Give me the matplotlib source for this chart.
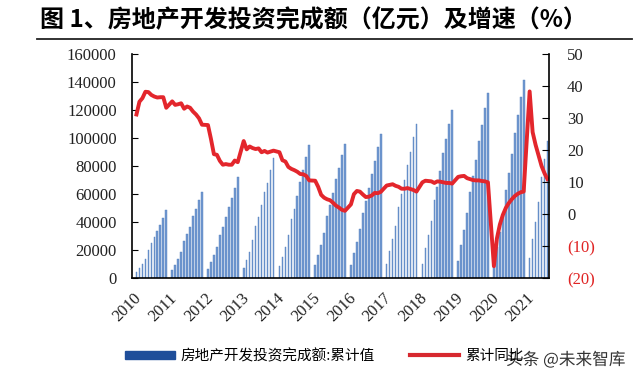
import numpy as np
import matplotlib.pyplot as plt
import matplotlib.patheffects as pe
from matplotlib.lines import Line2D
from matplotlib.patches import Patch

plt.rcParams['font.family'] = ['Noto Sans CJK SC', 'DejaVu Sans']

# cumulative investment (100m yuan), Feb..Dec of each year (Jan-Feb reported together)
inv_2010 = [4127, 7084, 10119, 13920, 19747, 24741, 28940, 33736, 37650, 43005, 48267]
inv_2011 = [5580, 9500, 13590, 18737, 26250, 31300, 36600, 44531, 49359, 55863, 61740]
inv_2012 = [6236, 11700, 16100, 22200, 30610, 36150, 43500, 51050, 56980, 64480, 71804]
inv_2013 = [7349, 13133, 18737, 26800, 36828, 43600, 51900, 61120, 68200, 76900, 86013]
inv_2014 = [8706, 15339, 21810, 30740, 42019, 49600, 58831, 68751, 76800, 86100, 95036]
inv_2015 = [9200, 16500, 23400, 32400, 43955, 51900, 60600, 70535, 78600, 87700, 95979]
inv_2016 = [9049, 17677, 25500, 34671, 46631, 55000, 64000, 74598, 83905, 93387, 102581]
inv_2017 = [9854, 19292, 27732, 37107, 50610, 59761, 69694, 80644, 89952, 100387, 109799]
inv_2018 = [10322, 21291, 30592, 40902, 55531, 64992, 76519, 88948, 99325, 110083, 120264]
inv_2019 = [12090, 23803, 34217, 46075, 61609, 72843, 84589, 98008, 109603, 121265, 132194]
inv_2020 = [10115, 21963, 33103, 45920, 62780, 75325, 88454, 103484, 116556, 129492, 141443]
inv_2021 = [13986, 27576, 40240, 54318, 72179, 84895, 98060]

# cumulative YoY growth (%)
yoy_2010 = [31.1, 35.1, 36.2, 38.2, 38.1, 37.2, 36.7, 36.4, 36.5, 36.5, 33.2]
yoy_2011 = [35.2, 34.1, 34.3, 34.6, 32.9, 33.6, 33.2, 32.0, 31.1, 29.9, 27.9]
yoy_2012 = [27.8, 23.5, 18.7, 18.5, 16.6, 15.4, 15.6, 15.4, 15.4, 16.7, 16.2]
yoy_2013 = [22.8, 20.2, 21.1, 20.6, 20.3, 20.5, 19.3, 19.7, 19.2, 19.5, 19.8]
yoy_2014 = [19.3, 16.8, 16.4, 14.7, 14.1, 13.7, 13.2, 12.5, 12.4, 11.9, 10.5]
yoy_2015 = [10.4, 8.5, 6.0, 5.1, 4.6, 4.3, 3.5, 2.6, 2.0, 1.3, 1.0]
yoy_2016 = [3.0, 6.2, 7.2, 7.0, 6.1, 5.3, 5.4, 5.8, 6.6, 6.5, 6.9]
yoy_2017 = [8.9, 9.1, 9.3, 8.8, 8.5, 7.9, 7.9, 8.1, 7.8, 7.5, 7.0]
yoy_2018 = [9.9, 10.4, 10.3, 10.2, 9.7, 10.2, 10.1, 9.9, 9.7, 9.7, 9.5]
yoy_2019 = [11.6, 11.8, 11.9, 11.2, 10.9, 10.6, 10.5, 10.5, 10.3, 10.2, 9.9]
yoy_2020 = [-16.3, -7.7, -3.3, -0.3, 1.9, 3.4, 4.6, 5.6, 6.3, 6.8, 7.0]
yoy_2021 = [38.3, 25.6, 21.6, 18.3, 15.0, 12.7, 10.9]

years = list(range(2010, 2022))
inv_years = [inv_2010, inv_2011, inv_2012, inv_2013, inv_2014, inv_2015,
             inv_2016, inv_2017, inv_2018, inv_2019, inv_2020, inv_2021]
yoy_years = [yoy_2010, yoy_2011, yoy_2012, yoy_2013, yoy_2014, yoy_2015,
             yoy_2016, yoy_2017, yoy_2018, yoy_2019, yoy_2020, yoy_2021]

title = '图 1、房地产开发投资完成额（亿元）及增速（%）'
bar_label = '房地产开发投资完成额:累计值'
line_label = '累计同比'

# month slots: Jan 2010 = 0, bars start at Feb of each year
x, inv, yoy = [], [], []
for k, (yr, iv, gy) in enumerate(zip(years, inv_years, yoy_years)):
    for m, (a, b) in enumerate(zip(iv, gy)):
        x.append(k * 12 + m + 1)
        inv.append(a)
        yoy.append(b)
x = np.array(x)

fig = plt.figure(figsize=(6.4, 3.82), dpi=100)
ax = fig.add_axes([132 / 640, 104 / 382, 417 / 640, 224 / 382])
ax2 = ax.twinx()

ax.bar(x, inv, width=0.55, color='#7199D0', edgecolor='#5580BE', linewidth=0.3)
ax2.plot(x, yoy, color='#E3262C', lw=2.8, solid_joinstyle='round')

ax.set_xlim(-0.5, 139.5)
ax.set_ylim(0, 160000)
ax2.set_ylim(-20, 50)

serif = 'Liberation Serif'
ax.set_yticks(range(0, 160001, 20000))
ax.set_yticklabels([str(v) for v in range(0, 160001, 20000)], fontfamily=serif, fontsize=12, color='#222222')
rt = list(range(-20, 51, 10))
ax2.set_yticks(rt)
ax2.set_yticklabels(['(%d)' % -v if v < 0 else str(v) for v in rt], fontfamily=serif, fontsize=12)
for lab, v in zip(ax2.get_yticklabels(), rt):
    lab.set_color('#E02424' if v < 0 else '#222222')

ax.set_xticks([k * 12 for k in range(len(years))])
ax.set_xticklabels([str(y) for y in years], rotation=45, ha='right', rotation_mode='anchor',
                   fontfamily=serif, fontsize=12, color='#222222')
ax.tick_params(axis='x', length=0, pad=9)
ax.tick_params(axis='y', direction='in', length=4, pad=11)
ax2.tick_params(axis='y', direction='in', length=5, pad=13)

for s in ['top', 'right']:
    ax.spines[s].set_visible(False)
for s in ['top', 'left', 'bottom']:
    ax2.spines[s].set_visible(False)
ax.spines['left'].set_linewidth(1.2)
ax.spines['bottom'].set_linewidth(1.2)
ax2.spines['right'].set_linewidth(1.2)

fig.text(40 / 640, 1 - 20 / 382, title, ha='left', va='center', fontsize=17.3, fontweight='bold')
fig.add_artist(Line2D([37 / 640, 632 / 640], [1 - 39 / 382] * 2, color='#222222', lw=1.3))

handles = [Patch(color='#1F4E9A'), Line2D([], [], color='#D7282F', lw=3)]
fig.legend(handles, [bar_label, line_label], loc='center left', bbox_to_anchor=(112 / 640, 1 - 356 / 382),
           ncol=2, frameon=False, fontsize=10.5, handlelength=3.4, handleheight=0.55,
           columnspacing=2.4, handletextpad=0.4)

fig.text(506 / 640, 1 - 360 / 382, '头条 @未来智库', ha='left', va='center', fontsize=12,
         color='#333333', path_effects=[pe.withStroke(linewidth=2, foreground='white')])

fig.savefig('out.png', dpi=100)
